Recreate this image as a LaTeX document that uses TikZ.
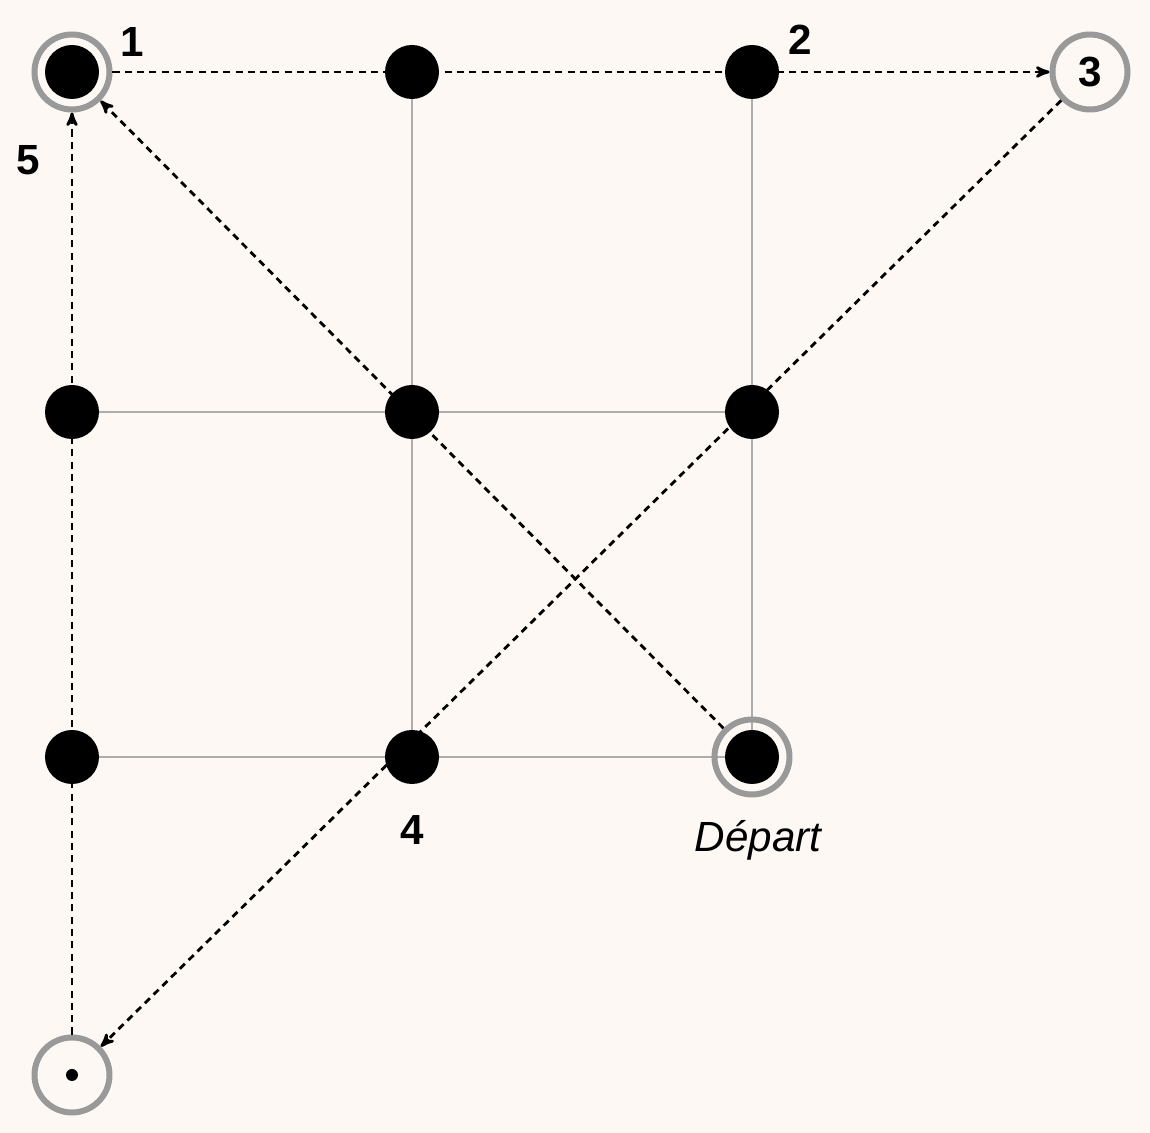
\documentclass[tikz,border=0pt]{standalone}
\usepackage{fontspec}
\setmainfont{Liberation Sans}
\usetikzlibrary{arrows}
\definecolor{bg}{HTML}{FDF8F3}
\definecolor{ringgray}{HTML}{999999}

\begin{document}
\begin{tikzpicture}[>=stealth',thick,
  dot/.style={circle,fill=black,inner sep=0pt,minimum size=1.08cm},
  ring/.style={circle,draw=ringgray,line width=3.4pt,inner sep=0pt,minimum size=1.5cm},
  grid line/.style={draw=ringgray!80,line width=1pt},
  route/.style={->,densely dashed,line width=1.6pt,dash pattern=on 4pt off 3pt},
  lbl/.style={font=\fontsize{24}{28}\selectfont\bfseries}]
  \fill[bg] (0,0) rectangle (23,22.66);
  \useasboundingbox (0,0) rectangle (23,22.66);
  % grid
  \foreach \i/\x in {a/1.44,b/8.24,c/15.04}
    \foreach \j/\y in {1/21.22,2/14.42,3/7.52}
      \coordinate (g\i\j) at (\x,\y);
  \draw[grid line] (gb1) -- (gb3) (gc1) -- (gc3)
    (ga2) -- (gc2) (ga3) -- (gc3);
  \foreach \i in {a,b,c}
    \foreach \j in {1,2,3}
      \node[dot] (d\i\j) at (g\i\j) {};
  % rings
  \node[ring] (start) at (gc3) {};
  \node[ring] (one) at (ga1) {};
  \node[ring,lbl] (three) at (21.8,21.22) {3};
  \node[ring] (bottom) at (1.44,1.16) {};
  \node[circle,fill=black,inner sep=0pt,minimum size=0.24cm] at (bottom) {};
  % labels
  \node[lbl] at (2.64,21.82) {1};
  \node[lbl] at (16,21.86) {2};
  \node[lbl] at (0.56,19.46) {5};
  \node[lbl] at (8.24,6.06) {4};
  \node[font=\fontsize{24}{28}\selectfont\itshape] at (15.16,5.86) {Départ};
  % route
  \path
    (start) edge[route] (one)
    (one) edge[route] (three)
    (three) edge[route] (bottom)
    (bottom) edge[route] (one);
\end{tikzpicture}
\end{document}
